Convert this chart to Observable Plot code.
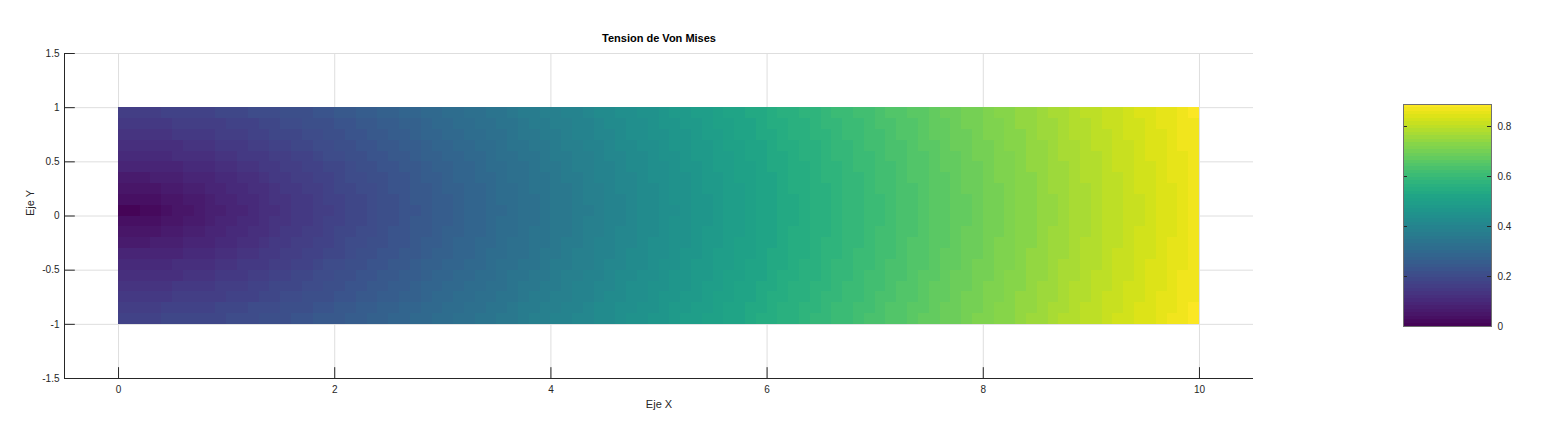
<!DOCTYPE html>
<html>
<head>
<meta charset="utf-8">
<script src="https://cdn.jsdelivr.net/npm/d3@7"></script>
<script src="https://cdn.jsdelivr.net/npm/@observablehq/plot@0.6"></script>
<style>
  html, body { margin: 0; padding: 0; background: #fff; }
  #chart { position: relative; width: 1544px; height: 436px; }
  #chart svg { position: absolute; top: 0; }
</style>
</head>
<body>
<div id="chart"></div>
<script>
// ---- texts & ticks ----
const title = "Tension de Von Mises";
const xLabel = "Eje X";
const yLabel = "Eje Y";
const xTicks = [0, 2, 4, 6, 8, 10];
const yTicks = [-1.5, -1, -0.5, 0, 0.5, 1, 1.5];
const cbTicks = [0, 0.2, 0.4, 0.6, 0.8];
const vMax = 0.888;      // top of the colour bar
const nLevels = 64;      // colormap levels

// ---- mesh: 100 columns (x 0..10), 20 rows (y 1..-1) ----
const xEdges = d3.range(0, 101).map(i => i / 10);
const yEdges = d3.range(0, 21).map(j => 1 - j / 10);

// colour level (0..63) of each column, one profile per |y| of the row node (0, 0.1, ..., 1.0)
const levelsAbsY0 = [0,0,1,1,2,3,3,4,5,5, 6,6,7,8,8,9,10,10,11,11, 12,13,13,14,15,15,16,16,17,18, 18,19,20,20,21,21,22,23,23,24, 25,25,26,26,27,28,28,29,30,30, 31,31,32,33,33,34,35,35,36,37, 37,38,38,39,40,40,41,42,42,43, 43,44,45,45,46,47,47,48,48,49, 50,50,51,52,52,53,53,54,55,55, 56,57,57,58,58,59,60,60,61,62];
const levelsAbsY1 = [2,2,2,2,3,3,4,4,5,6, 6,7,7,8,9,9,10,10,11,12, 12,13,13,14,15,15,16,17,17,18, 18,19,20,20,21,22,22,23,23,24, 25,25,26,27,27,28,28,29,30,30, 31,32,32,33,33,34,35,35,36,37, 37,38,38,39,40,40,41,42,42,43, 43,44,45,45,46,47,47,48,48,49, 50,50,51,52,52,53,53,54,55,55, 56,57,57,58,58,59,60,60,61,62];
const levelsAbsY2 = [3,3,3,3,4,4,5,5,6,6, 7,7,8,8,9,10,10,11,11,12, 13,13,14,14,15,16,16,17,17,18, 19,19,20,20,21,22,22,23,24,24, 25,25,26,27,27,28,29,29,30,30, 31,32,32,33,34,34,35,35,36,37, 37,38,39,39,40,40,41,42,42,43, 44,44,45,45,46,47,47,48,49,49, 50,50,51,52,52,53,54,54,55,55, 56,57,57,58,59,59,60,60,61,62];
const levelsAbsY3 = [4,4,4,5,5,5,6,6,6,7, 7,8,8,9,10,10,11,11,12,12, 13,14,14,15,15,16,16,17,18,18, 19,20,20,21,21,22,23,23,24,24, 25,26,26,27,28,28,29,29,30,31, 31,32,32,33,34,34,35,36,36,37, 37,38,39,39,40,41,41,42,42,43, 44,44,45,46,46,47,47,48,49,49, 50,51,51,52,52,53,54,54,55,56, 56,57,57,58,59,59,60,61,61,62];
const levelsAbsY4 = [6,6,6,6,6,6,7,7,7,8, 8,9,9,10,10,11,11,12,12,13, 13,14,15,15,16,16,17,17,18,19, 19,20,20,21,22,22,23,23,24,25, 25,26,27,27,28,28,29,30,30,31, 31,32,33,33,34,35,35,36,36,37, 38,38,39,39,40,41,41,42,43,43, 44,44,45,46,46,47,48,48,49,49, 50,51,51,52,53,53,54,54,55,56, 56,57,58,58,59,59,60,61,61,62];
const levelsAbsY5 = [7,7,7,7,7,8,8,8,8,9, 9,10,10,10,11,11,12,12,13,14, 14,15,15,16,16,17,17,18,19,19, 20,20,21,21,22,23,23,24,24,25, 26,26,27,27,28,29,29,30,30,31, 32,32,33,34,34,35,35,36,37,37, 38,38,39,40,40,41,42,42,43,43, 44,45,45,46,46,47,48,48,49,50, 50,51,51,52,53,53,54,55,55,56, 56,57,58,58,59,60,60,61,61,62];
const levelsAbsY6 = [8,8,8,8,8,8,9,9,9,10, 10,10,11,11,12,12,13,13,14,14, 15,15,16,16,17,17,18,18,19,20, 20,21,21,22,22,23,24,24,25,25, 26,27,27,28,28,29,30,30,31,31, 32,33,33,34,34,35,36,36,37,37, 38,39,39,40,40,41,42,42,43,44, 44,45,45,46,47,47,48,49,49,50, 50,51,52,52,53,53,54,55,55,56, 57,57,58,58,59,60,60,61,62,62];
const levelsAbsY7 = [9,9,9,9,9,10,10,10,10,11, 11,11,12,12,13,13,13,14,14,15, 15,16,16,17,17,18,18,19,20,20, 21,21,22,22,23,23,24,25,25,26, 26,27,28,28,29,29,30,31,31,32, 32,33,33,34,35,35,36,37,37,38, 38,39,40,40,41,41,42,43,43,44, 44,45,46,46,47,48,48,49,49,50, 51,51,52,52,53,54,54,55,56,56, 57,57,58,59,59,60,60,61,62,62];
const levelsAbsY8 = [10,10,10,10,10,11,11,11,11,11, 12,12,12,13,13,14,14,15,15,15, 16,16,17,17,18,18,19,19,20,21, 21,22,22,23,23,24,24,25,26,26, 27,27,28,28,29,30,30,31,31,32, 33,33,34,34,35,36,36,37,37,38, 39,39,40,40,41,42,42,43,43,44, 45,45,46,46,47,48,48,49,50,50, 51,51,52,53,53,54,54,55,56,56, 57,58,58,59,59,60,61,61,62,62];
const levelsAbsY9 = [11,11,11,11,12,12,12,12,12,13, 13,13,14,14,14,15,15,15,16,16, 17,17,18,18,19,19,20,20,21,21, 22,22,23,23,24,24,25,26,26,27, 27,28,28,29,30,30,31,31,32,32, 33,34,34,35,35,36,37,37,38,38, 39,40,40,41,41,42,43,43,44,44, 45,46,46,47,47,48,49,49,50,50, 51,52,52,53,53,54,55,55,56,57, 57,58,58,59,60,60,61,61,62,63];
const levelsAbsY10 = [12,12,12,12,13,13,13,13,13,13, 14,14,14,15,15,15,16,16,17,17, 17,18,18,19,19,20,20,21,21,22, 22,23,23,24,24,25,25,26,27,27, 28,28,29,29,30,30,31,32,32,33, 33,34,35,35,36,36,37,37,38,39, 39,40,40,41,42,42,43,43,44,45, 45,46,46,47,48,48,49,49,50,51, 51,52,52,53,54,54,55,56,56,57, 57,58,59,59,60,60,61,62,62,63];

const profiles = [levelsAbsY0, levelsAbsY1, levelsAbsY2, levelsAbsY3, levelsAbsY4, levelsAbsY5,
                  levelsAbsY6, levelsAbsY7, levelsAbsY8, levelsAbsY9, levelsAbsY10];
// which profile each row (top to bottom) uses
const rowProfile = [9, 8, 7, 6, 5, 4, 3, 2, 1, 0, 1, 2, 3, 4, 5, 6, 7, 8, 9, 10];

const levelValue = L => (L + 0.5) / nLevels * vMax;

const cells = [];
rowProfile.forEach((p, r) => {
  profiles[p].forEach((L, i) => {
    cells.push({x1: xEdges[i], x2: xEdges[i + 1], y1: yEdges[r + 1], y2: yEdges[r], v: levelValue(L)});
  });
});

const bands = d3.range(nLevels).map(L => ({y1: L / nLevels * vMax, y2: (L + 1) / nLevels * vMax, v: levelValue(L)}));

const font = "'Liberation Sans', Arial, Helvetica, sans-serif";
const ink = "#262626";
const colorScale = {type: "linear", domain: [0, vMax], scheme: "viridis"};
const fmt = d => String(d);

const main = Plot.plot({
  width: 1544, height: 436,
  marginLeft: 64, marginRight: 291, marginTop: 53, marginBottom: 58,
  style: {fontFamily: font, fontSize: "10px", color: ink, background: "transparent"},
  x: {domain: [-0.5, 10.5]},
  y: {domain: [-1.5, 1.5]},
  color: colorScale,
  marks: [
    Plot.ruleX(xTicks, {stroke: "#dedede"}),
    Plot.ruleY(yTicks, {stroke: "#dedede"}),
    Plot.rect(cells, {x1: "x1", x2: "x2", y1: "y1", y2: "y2", fill: "v", shapeRendering: "crispEdges"}),
    Plot.ruleX([-0.5], {stroke: ink}),
    Plot.ruleY([-1.5], {stroke: ink}),
    Plot.ruleY(yTicks, {x1: -0.5, x2: -0.4, stroke: ink}),
    Plot.ruleX(xTicks, {y1: -1.5, y2: -1.4, stroke: ink}),
    Plot.axisY({ticks: yTicks, tickSize: 0, tickPadding: 5, tickFormat: fmt, label: null}),
    Plot.axisX({ticks: xTicks, tickSize: 0, tickPadding: 7, tickFormat: fmt, label: null}),
    Plot.text([title], {text: d => d, frameAnchor: "top", dy: -15, lineAnchor: "middle", fontWeight: "bold", fontSize: 11, fill: "#000"}),
    Plot.text([xLabel], {text: d => d, frameAnchor: "bottom", dy: 26, lineAnchor: "middle", fontSize: 11, fill: ink}),
    Plot.text([yLabel], {text: d => d, frameAnchor: "left", dx: -34, lineAnchor: "middle", rotate: -90, fontSize: 11, fill: ink})
  ]
});
main.style.left = "0px";

const bar = Plot.plot({
  width: 174, height: 436,
  marginLeft: 33, marginRight: 53, marginTop: 104, marginBottom: 110,
  style: {fontFamily: font, fontSize: "10px", color: ink, background: "transparent"},
  x: {domain: [0, 1], axis: null},
  y: {domain: [0, vMax], axis: null},
  color: colorScale,
  marks: [
    Plot.rect(bands, {x1: 0, x2: 1, y1: "y1", y2: "y2", fill: "v", shapeRendering: "crispEdges"}),
    Plot.ruleY(cbTicks, {x1: 0.955, x2: 1, stroke: ink}),
    Plot.ruleY(cbTicks, {x1: 0, x2: 0.045, stroke: ink}),
    Plot.axisY({anchor: "right", ticks: cbTicks, tickSize: 0, tickPadding: 6, tickFormat: fmt, label: null}),
    Plot.frame({stroke: "#707070"})
  ]
});
bar.style.left = "1370px";

const chart = document.getElementById("chart");
chart.appendChild(main);
chart.appendChild(bar);
</script>
</body>
</html>
